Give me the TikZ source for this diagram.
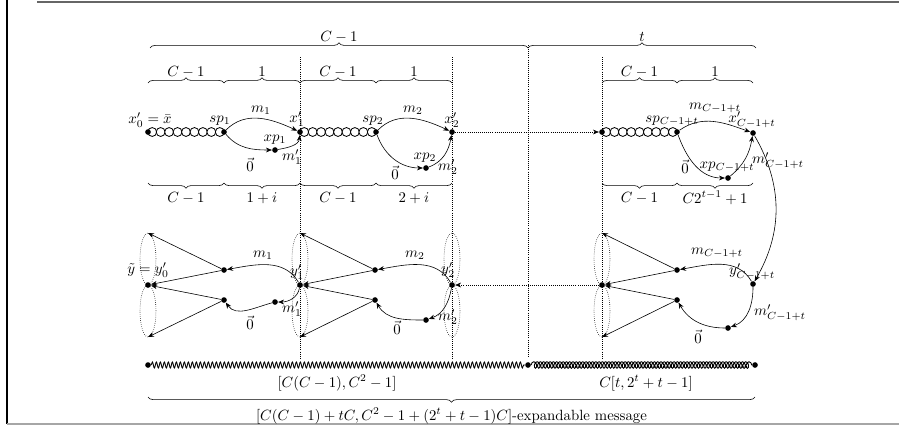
\documentclass[tikz,border=0pt]{standalone}
\usetikzlibrary{arrows.meta,decorations.pathreplacing,decorations.pathmorphing}

\tikzset{
  dot/.style={circle, fill, inner sep=0pt, minimum size=3.8pt},
  ring/.style={circle, draw, line width=0.55pt, fill=white, inner sep=0pt, minimum size=6pt},
  guide/.style={densely dotted},
  bracetop/.style={decorate, decoration={brace, amplitude=3.5pt}},
  bracebot/.style={decorate, decoration={brace, amplitude=3.5pt, mirror}},
}

\begin{document}
\begin{tikzpicture}[x=0.675pt, y=0.675pt, >={Stealth[length=4pt, width=3.2pt]}]

  \useasboundingbox (0,0) rectangle (920,-427);

  % page edges
  \draw[gray!80!black, line width=1.7pt] (37,-2) -- (899,-2);
  \draw[line width=1.3pt] (7,0) -- (7,-424);
  \draw[gray!70, line width=0.8pt] (7,-424) -- (899,-424);

  % dotted guides
  \foreach \gx/\gy in {300/57, 452/57, 528/45, 602/57}
    \draw[guide] (\gx,-\gy) -- (\gx,-358);

  % braces
  \draw[bracetop] (150,-48) -- node[midway, yshift=7.4pt] (bC) {$C-1$} (528,-48);
  \draw[bracetop] (528,-48) -- node[midway, yshift=7.4pt] (bt) {$t$} (756,-48);
  \foreach \s/\e/\t [count=\i] in {148/224/C-1, 224/300/1, 300/376/C-1, 376/452/1, 602/677/C-1, 677/753/1}
    \draw[bracetop] (\s,-83) -- node[midway, yshift=7.4pt] (ba\i) {$\t$} (\e,-83);
  \foreach \s/\e/\t [count=\i] in {148/224/C-1, 224/300/1+i, 300/376/C-1, 376/452/2+i, 602/677/C-1, 677/753/{C2^{t-1}+1}}
    \draw[bracebot] (\s,-183) -- node[midway, yshift=-10pt] (bb\i) {$\t$} (\e,-183);

  % upper chains
  \foreach \s/\e in {148/224, 300/376, 602/677}
    \foreach \k in {0,...,8}
      \node[ring] (r\s-\k) at ({\s+(\e-\s)*(\k+0.5)/9}, -132) {};

  \node[dot] (x0) at (148,-132) {};
  \node[dot] (sp1) at (224,-132) {};
  \node[dot] (x1) at (300,-132) {};
  \node[dot] (xp1) at (275,-150) {};
  \node[dot] (sp2) at (376,-132) {};
  \node[dot] (x2) at (452,-132) {};
  \node[dot] (xp2) at (426,-168) {};
  \node[dot] (s3) at (602,-132) {};
  \node[dot] (sp3) at (677,-132) {};
  \node[dot] (x3) at (753,-133) {};
  \node[dot] (xp3) at (728,-178) {};

  \draw[->] (sp1) to[out=45, in=155] (x1);
  \draw[->] (sp1) to[out=-50, in=180] (xp1);
  \draw[->] (xp1) to[out=10, in=-95] (x1);
  \draw[->] (sp2) to[out=45, in=155] (x2);
  \draw[->] (sp2) to[out=-70, in=180] (xp2);
  \draw[->] (xp2) to[out=20, in=-100] (x2);
  \draw[->] (sp3) to[out=35, in=160] (x3);
  \draw[->] (sp3) to[out=-70, in=180] (xp3);
  \draw[->] (xp3) to[out=40, in=-100] (x3);
  \draw[guide, ->] (x2) -- (s3);

  \node (lx0) at (150,-120) {$x'_0=\bar{x}$};
  \node (lsp1) at (220,-121) {$sp_1$};
  \node (lm1) at (261,-110) {$m_1$};
  \node (lx1) at (297,-119) {$x'_1$};
  \node (lxp1) at (275,-140) {$xp_1$};
  \node (lz1) at (250,-165) {$\vec{0}$};
  \node (ln1) at (292,-157) {$m'_1$};
  \node (lsp2) at (373,-121) {$sp_2$};
  \node (lm2) at (413,-110) {$m_2$};
  \node (lx2) at (452,-120) {$x'_2$};
  \node (lxp2) at (425,-158) {$xp_2$};
  \node (lz2) at (395,-173) {$\vec{0}$};
  \node (ln2) at (448,-167) {$m'_2$};
  \node (lsp3) at (672,-121) {$sp_{C-1+t}$};
  \node (lm3) at (715,-108) {$m_{C-1+t}$};
  \node (lx3) at (752,-120) {$x'_{C-1+t}$};
  \node (lz3) at (685,-167) {$\vec{0}$};
  \node (lxp3) at (727,-167) {$xp_{C-1+t}$};
  \node (ln3) at (778,-161) {$m'_{C-1+t}$};

  % lower fans
  \foreach \ex in {148,300,452,602} {
    \draw[guide] (\ex,-259) ellipse [x radius=8, y radius=26];
    \draw[guide] (\ex,-311) ellipse [x radius=8, y radius=26];
    \coordinate (t\ex) at (\ex,-233);
    \coordinate (u\ex) at (\ex,-337);
  }

  \node[dot] (y0) at (148,-285) {};
  \node[dot] (a1) at (224,-270) {};
  \node[dot] (b1) at (224,-300) {};
  \node[dot] (c1) at (275,-302) {};
  \node[dot] (y1) at (300,-285) {};
  \node[dot] (a2) at (375,-270) {};
  \node[dot] (b2) at (375,-300) {};
  \node[dot] (c2) at (426,-320) {};
  \node[dot] (y2) at (452,-285) {};
  \node[dot] (s3b) at (602,-285) {};
  \node[dot] (a3) at (677,-270) {};
  \node[dot] (b3) at (677,-300) {};
  \node[dot] (c3) at (728,-328) {};
  \node[dot] (y3) at (753,-284) {};

  \foreach \a/\b/\f/\g in {a1/b1/y0/148, a2/b2/y1/300, a3/b3/s3b/602} {
    \draw[->] (\a) -- (t\g);
    \draw[->] (\a) -- (\f);
    \draw[->] (\b) -- (\f);
    \draw[->] (\b) -- (u\g);
  }

  \draw[->] (x3) to[out=-60, in=60] (y3);
  \draw[->] (y1) to[out=120, in=10] (a1);
  \draw[->] (y1) to[out=-100, in=0] (c1);
  \draw[->] (c1) to[out=195, in=-55] (b1);
  \draw[->] (y2) to[out=120, in=10] (a2);
  \draw[->] (y2) to[out=-100, in=20] (c2);
  \draw[->] (c2) to[out=180, in=-60] (b2);
  \draw[->] (y3) to[out=120, in=10] (a3);
  \draw[->] (y3) to[out=-90, in=20] (c3);
  \draw[->] (c3) to[out=180, in=-60] (b3);
  \draw[guide, ->] (s3b) -- (y2);

  \node (ly0) at (148,-270) {$\tilde{y}=y'_0$};
  \node (lk1) at (263,-255) {$m_1$};
  \node (ly1) at (297,-272) {$y'_1$};
  \node (lo1) at (250,-323) {$\vec{0}$};
  \node (lq1) at (292,-309) {$m'_1$};
  \node (lk2) at (415,-255) {$m_2$};
  \node (ly2) at (448,-270) {$y'_2$};
  \node (lo2) at (397,-328) {$\vec{0}$};
  \node (lq2) at (448,-317) {$m'_2$};
  \node (lk3) at (717,-253) {$m_{C-1+t}$};
  \node (ly3) at (752,-272) {$y'_{C-1+t}$};
  \node (lo3) at (698,-337) {$\vec{0}$};
  \node (lq3) at (780,-313) {$m'_{C-1+t}$};

  % expandable message
  \node[dot] (w0) at (148,-365) {};
  \node[dot] (w1) at (528,-365) {};
  \node[dot] (w2) at (755,-365) {};
  \draw[line width=0.6pt, decorate, decoration={snake, segment length=2.7pt, amplitude=2pt}] (w0) -- (w1);
  \draw[line width=0.6pt, decorate, decoration={coil, segment length=2.2pt, amplitude=2.2pt, aspect=0.6}] (w1) -- (w2);
  \node (lw1) at (337,-383) {$[C(C-1),C^2-1]$};
  \node (lw2) at (646,-383) {$C[t,2^t+t-1]$};
  \draw[bracebot] (148,-397) -- node[midway, yshift=-12.8pt] (lall) {$[C(C-1)+tC,C^2-1+(2^t+t-1)C]$-expandable message} (755,-397);

\end{tikzpicture}
\end{document}
